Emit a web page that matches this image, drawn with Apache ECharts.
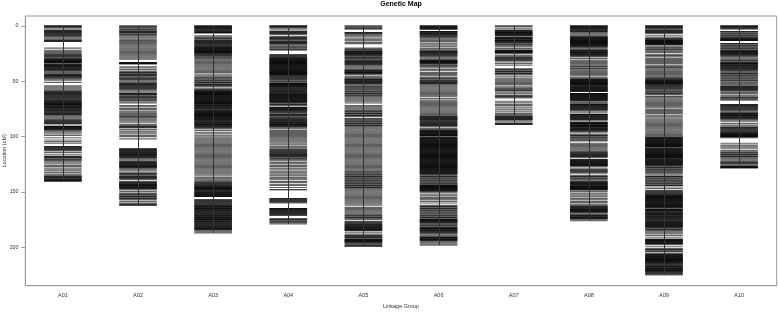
<!DOCTYPE html>
<html><head><meta charset="utf-8">
<script src="https://cdn.jsdelivr.net/npm/echarts@6/dist/echarts.min.js"></script>
<style>html,body{margin:0;padding:0;background:#fff}#c{width:778px;height:313px}</style>
</head><body><div id="c"></div>
<script>
const categories = ['A01','A02','A03','A04','A05','A06','A07','A08','A09','A10'];
const yTicks = [0,50,100,150,200];

const A01 = [0,0,0,1,1,1,2.5,4,4,5,5,6,6,7,7,8,8,9,9,10,11,12,13,13,14,14,20,22,23,24,25,26,26,27,27,28,28,29,30,30,30,31,31,31,32,32,32,33,33,33,34,35,35,35,36,36,36,37,37,37,38,38,39,39,39,40,40,41,42,43,44,44,45,45,45,46,46,47,47,48,49,51,54,55,56,57,58,59,59,60,60,61,61,62,62,63,63,64,64,65,65,66,66,67,67,68,68,68,69,69,70,70,70,71,71,71,72,72,73,73,73,74,74,74,75,75,76,76,76,77,77,78,78,79,79,80,80,81,82,83,84,85,85,86,86,87,87,88,88,89.5,91,91,91,92,92,92,93,93,93,94,94,95,96,97.5,99,101,103,104.5,106,109,109,110,110,111,111,112,112,113,114.5,116.5,118,118,119,119,120,121,121,122,123,124.5,126,127,128.5,130,131,132.5,134,135,136,136,137,137,138,138,139,139,139,140,140,140];

const A02 = [0,0,1,1,2,3,3,4,5,5,6,6,7,8,8,9,10,11,12.5,13,14,15,16,17,18,19,20,21,22,23,24,25,26,27,28,29,30,33,33,33,34,34,34,37,38,39.5,41,42,42,43,44,44,45,45,46,47,47,48,48,49,50,51,52,52,53,53,54,54,55,55,56,56,57,57,58,59,60.5,61,61,62,62,63,64,64,65,65,66,67,67,68.5,69.5,72,73,74.5,75.5,77,78,79,80,81,82,82,83,84,85,86,87.5,89,90,91,91,92,92,93.5,95,96,97.5,99,100,102,111,111,112,112,112,113,113,114,114,114,115,115,116,116,116,117,117,118,118,119,119,120,121,122,123,123,123,124,124,125,125,125,126,126,127,127,127,128,128,129,130,131,133,133,134,134,135,136,136,137,137,138,138,139,141,141,141,142,142,143,143,143,144,144,144,145,145,146,146,146,147,147,148,149.5,151,152,152,153,154,154,155,156,156,157,158.5,160,161,161,162,162];

const A03 = [0,0,0,1,1,1,2,2,2,3,3,4,4,5,5,6,6,6,9,10,11,11,12,13,13,14,14,15,15,16,16,17,17,18,18,19,19,19,20,20,20,21,21,21,22,22,22,23,23,23,24,24,24,25,25,26,26,27,27,28,29,29,30,31,32,33,34,35,36,37,38,39,40,41,42,43.5,45,46,47,47,48,49,49,50,51,51,52,53,53,54,54,55,57,57,58,58,59,59,59,60,60,60,61,61,61,62,62,62,63,63,63,64,64,64,65,65,65,66,66,66,67,67,67,68,68,68,69,69,69,70,70,70,71,71,72,72,72,73,73,74,74,74,75,75,76,76,77,77,77,78,78,78,79,79,79,80,80,80,81,81,81,82,82,82,83,83,83,84,84,84,85,85,85,86,86,87,87,87,88,88,89,89,89,90,90,91,91,92,92,93,94.5,96,97,98.5,99.5,101,102,103,104,105,106,107,108,109,110,111,112,113,114,115,116,117,118,119,120,121,122,123,124,125,126,127,128,129,130,131,132,133,134,135.5,137,138,139,140,141,141,142,142,143,143,144,144,145,145,146,146,146,147,147,147,148,148,148,149,149,150,150,150,151,151,151,152,152,152,153,153,153,154,154,154,157,157,158,158,159,159,160,160,161,161,162,162,163,163,163,164,164,165,165,165,166,166,167,167,167,168,168,169,169,169,170,170,171,171,171,172,172,173,173,173,174,174,175,175,175,176,176,177,177,177,178,178,179,179,179,180,180,181,181,181,182,182,183,183,183,184,184,185,186,187];

const A04 = [0,0,0,1,1,1,2,3.5,5,5,6,6,7,7,8,9.5,10.5,11,11,12,12,13,14,14,15,15,16,16,17,18,19,19,20,21,21,22,26,26,27,27,28,28,29,29,29,30,30,30,31,31,31,32,32,32,33,33,33,34,34,34,35,35,35,36,36,36,37,37,37,38,38,38,39,39,39,40,40,40,41,41,41,42,42,42,43,43,43,44,44,44,45,45,46,46,47,47,48,48,49,50,50,51,52,52,52,53,53,53,54,54,54,55,55,55,56,56,57,57,57,58,58,59,59,59,60,60,61,61,62,62,62,63,63,63,64,64,64,65,65,65,66,66,66,67,67,67,68,68,68,69,69,70,71,71,72,73.5,74,74,74,75,75,75,76,76,76,77,77,78,78,79,80,80,81,81,82,83,83,84,84,85,85,85,86,86,87,87,87,88,88,89,89,89,90,90,91,91,92,93,94.5,95.5,96.5,97,98,99,100,101,102,103,104,105,106.5,107.5,109,110,111,112,112,113,113,114,114,115,115,116,116,117,117,118,118,119,120,120,121,122,123.5,124.5,126,127,128.5,129.5,131,132,133,134.5,135.5,137,138,139,140.5,141.5,143,144,146,148,148,156,156,157,157,158,158,159,159,160,165,165,165,166,166,167,167,167,168,168,169,169,169,170,170,171,171,174,175,175,176,177,177,178,179];

const A05 = [0,0,1,2,2,3,6,6,7,7,8,9,10,11.5,12.5,13.5,15,16,20,21,21,22,23,23,23,24,24,25,25,25,26,26,27,27,28,29,29,29,30,31,31,32,32,33,33,34,34,35,35,36,37,38,39,40,40,40,41,41,42,42,42,43,43,44,45.5,46.5,48,48,48,49,49,50,50,50,51,51,52,52,53,54,55,55,56,57,57,58,59,59,60,61,61,62,63,63,64,65,66,67,68,69.5,72,73,74,75,76,77,77,78,79,79,80,81,81,82,84,84,85,86,86,87,88,88,89,90,90,91,92,93,94,95,96,97,98,99,100,101,102,103,104,105,106,107,108,109,110,111,112,113,114,115,116,117,118,119,120,121,122,123,124,125,126,127,128,129,130,131,132,132,133,134,134,135,136,136,137,138,138,139,140,140,141,142,142,143,144,144,145,146,146,147,148,149,150,151,152,153,154,155,156,157,158,159,160,161,162.5,164,165,166,167,168,169,170,171,171,172,173,173,174,175,177,177,178,178,179,179,180,180,180,181,181,182,182,182,183,183,184,184,184,185,185,187,189,189,190,190,191,191,192,193,193,193,194,194,194,195,195,195,196,196,197,198,198,199,199];

const A06 = [0,0,0,1,1,1,2,2,2,3,3,5,5,5,6,6,7,7,7,8,8,9,9,10,10,11,12,13,14,15.5,16.5,18,19,20.5,21.5,22.5,23,23,24,24,25,25,26,26,27,27,28,29,30,31,31,31,32,32,32,33,33,33,34,34,35,36,36,37,38,39.5,40.5,42,43,44,45,46.5,47.5,48,49,49,50,50,51,51,52,52,53,54,55,56,57,58,59,60,61,62,63,64,65.5,67,68,69,70,71,72,73,74,75,76,77,78,79,80,81,82,82,82,83,83,84,84,84,85,85,86,86,87,87,88,88,89,89,90,90,91,92.5,94,94,94,95,95,95,96,96,96,97,97,97,98,98,98,99,99,99,100,101,101,101,102,102,102,103,103,103,104,104,104,105,105,105,106,106,106,107,107,107,108,108,108,109,109,109,110,110,110,111,111,111,112,112,112,113,113,113,114,114,114,115,115,115,116,116,116,117,117,117,118,118,118,119,119,119,120,120,120,121,121,121,122,122,122,123,123,123,124,124,124,125,125,125,126,126,126,127,127,127,128,128,128,129,129,129,130,130,130,131,131,131,132,132,132,133,133,133,134,134,135,136,136,137,138,138,139,140,140,141,142,142,143,144,144,144,145,145,145,146,146,146,147,147,147,148,148,148,149,149,149,150,151,152.5,153.5,155,156,157,158.5,160,162,163,163,164,165,165,166,167,167,168,169,169,170,171,171,172,173,173,174,175,175,175,176,176,176,177,177,177,178,178,179,180,180,181,182,182,183,183,183,184,184,185,185,185,186,186,187,187,188,189,190,191,191,191,192,192,193,193,193,194,194,195,196,197,198];

const A07 = [0,0,1,2.5,4,4,5,5,6,6,6,7,7,7,8,8,8,9,9,10.5,11,11,11,12,12,13,13,13,14,14,15,15,16,17,17,18,19,20.5,22,22,22,23,23,23,24,24,24,25,26.5,27.5,28.5,29,29,30,30,31,31,32.5,34,35.5,39,39,40,41,41,42,43,43,44,45.5,47,48,49,50,51,52,53,54.5,56,56,57,58,58,59,60.5,61.5,63,63,64,64,65,68,69.5,71,72,73.5,75,76,77.5,79,80,81,82,82,82,83,83,84,84,84,85,85,86.5,88,88,89,89];

const A08 = [0,0,0,1,1,1,2,2,2,3,3,4,4,5,5,6,7,8,9,10,10,10,11,11,11,12,12,12,13,13,13,14,14,14,15,15,15,16,16,16,17,17,17,18,18,18,19,19,20,21,22,22,22,23,23,24,24,24,25,25,26,26,26,27,27,28,29.5,31,32,33,34,35,36,37,37,38.5,39,40,41,42,43,44,45,46.5,48,48,48,49,49,49,50,50,50,51,51,51,52,52,52,53,53,53,54,54,55,55,55,56,56,56,57,57,57,58,58,58,59,59,59,61,61,61,62,62,62,63,63,63,64,64,64,65,65,65,66,66,66,67,67,67,68,69,70,71,71,71,72,72,73,73,73,74,74,75,75,75,76,76,77,78.5,80,80,80,81,81,82,82,82,83,83,84,84,84,85,85,87,87,87,88,88,88,89,89,90,90,90,91,91,91,92,92,93,93,93,94,94,94,95,95,96.5,98,99,99,100,101,101,102,103,103,104,106,107,108,109,110,111,112,113,114,114,115,115,116,116,117,117,118,118,119,121,121,121,122,122,122,123,123,123,124,124,124,125,125,125,126,126,126,127,128.5,130,130,131,131,132,132,133,135,136,136,137,138,138,139,140,141,141,141,142,142,142,143,143,143,144,144,145,145,145,146,146,146,147,147,147,148,148,148,149.5,151,152,153.5,154.5,156,157,158.5,159.5,161,162,163,163,164,164,165,165,166,166,166,167,167,167,168,168,168,169,170,171,171,171,172,172,173,173,173,174,174,175,176];

const A09 = [0,0,0,1,1,1,2,2,3,4,4,5,5,6,6,7,9,11,11,12,12,13,13,13,14,14,14,15,15,15,16,16,16,17,17,17,19,19,20,21,21,22,23,24,25.5,26.5,27,28,29.5,30.5,31,32,33,34,35.5,36.5,37.5,38,39,40,41,42,43,44,45,46,47,47,48,48,49,49,49,50,50,50,51,51,51,52,52,52,53,53,54,54,55,55,56,56,57,57,58,59,59,60,61,61,62,63.5,64,65,66,67,68,69,70,71,72,73,74,75.5,76.5,77.5,78,79,80.5,81.5,82.5,84,85,86,87,88,89,90,91,92,93,94,95,96,97,98,99,100,101,101,101,102,102,102,103,103,103,104,104,104,105,105,105,106,106,106,107,107,107,108,108,108,109,109,109,110,111,111,111,112,112,112,113,113,113,114,114,114,115,115,115,116,116,116,117,117,117,118,118,118,119,119,119,120,120,121,121,121,122,122,122,123,123,123,124,124,124,125,125,125,126,126,127,128,128,129,130,130,131,132,132,133,134,135.5,136,136,137,138,138,139,140,140,141,142,142,143,144,144,145.5,147,149,149,150,150,151,151,152,152,153,153,153,154,154,154,155,155,155,156,156,156,157,157,157,158,158,158,159,159,159,160,160,160,161,161,161,162,162,162,163,163,163,164,164,165,166,166,166,167,167,167,168,168,169,169,169,170,170,170,171,171,172,172,172,173,173,174,174,175,175,176,176,177,177,177,178,178,178,179,179,179,180,180,180,181,181,181,182,182,183,184,184,185,186,187,188,189.5,191.5,193,193,193,194,194,194,195,195,195,196,196,196,197,197,197,199,201,202,202,203,204,204,206,206,206,207,207,207,208,208,208,209,209,209,210,210,210,211,211,211,212,212,212,213,213,213,214,214,214,215,215,216,216,217,217,217,218,218,219,219,219,220,220,221,221,221,222,222,223,223,224,224,225];

const A10 = [0,0,0,1,1,1,2,2,3,5,5,6,7,7,8,9,9,10,11,11,11,12,12,12,13,13,13,16,16,17,18,18,19,20,20,21,22,22,23,23,23,24,24,25,25,25,26,26,27,27,28,29,30,31,31,32,33,33,34,34,34,35,35,36,36,36,37,37,38,38,38,39,39,40,40,41,42,43,43,44,45,45,46,47,47,48,49,49,50,51,52,53,54,55,55,55,56,56,57,57,57,58,58,59,60,61,62.5,63.5,64.5,65,66,66,67,71,71,72,72,73,73,74,74,75,75,76,76,77,78,79,79,79,80,80,81,81,81,82,82,83,83,83,84,84,85,86,88,89.5,90.5,91.5,92,92,93,93,94,94,95,95,96,96,97,97,97,98,98,98,99,99,99,100,100,100,101,106,107.5,108.5,109.5,111,112.5,114,114,115,116,116,117,118,118,119,120,121,122,123,123,124,124,125,126,127,127,127,128,128,128];

const groups = [A01,A02,A03,A04,A05,A06,A07,A08,A09,A10];
const markerData = [];
groups.forEach(function(g,i){ g.forEach(function(p){ markerData.push([i,p]); }); });
const lengthData = groups.map(function(g,i){ return [i, 0, Math.max.apply(null,g)]; });

const FONT = 'Liberation Sans';
const chart = echarts.init(document.getElementById('c'), null, {renderer:'canvas'});
chart.setOption({
  animation:false,
  backgroundColor:'#fff',
  title:{text:'Genetic Map', left:401, top:1, textAlign:'center', padding:0,
    textStyle:{fontFamily:FONT, fontSize:7, fontWeight:'bold', color:'#000'}},
  grid:{left:25.3, right:1.3, top:16, bottom:27.3, containLabel:false, outerBoundsMode:'none',
    show:true, borderColor:'#999', borderWidth:1, backgroundColor:'transparent'},
  xAxis:{type:'category', data:categories, boundaryGap:true,
    name:'Linkage Group', nameLocation:'middle', nameGap:17,
    nameTextStyle:{fontFamily:FONT, fontSize:5.5, color:'#333'},
    axisLine:{onZero:false, lineStyle:{color:'#999', width:1}},
    axisTick:{alignWithLabel:true, length:4, lineStyle:{color:'#999'}},
    axisLabel:{fontFamily:FONT, fontSize:5.5, color:'#333', margin:7},
    splitLine:{show:false}},
  yAxis:{type:'value', inverse:true, min:-9, max:234.7,
    name:'Location (cM)', nameLocation:'middle', nameGap:17.5, nameRotate:90, nameMoveOverlap:false,
    nameTextStyle:{fontFamily:FONT, fontSize:5.5, color:'#333'},
    axisLine:{show:true, onZero:false, lineStyle:{color:'#999', width:1}},
    axisTick:{show:true, length:4, customValues:yTicks, lineStyle:{color:'#999'}},
    axisLabel:{fontFamily:FONT, fontSize:5.2, color:'#333', margin:7, customValues:yTicks},
    splitLine:{show:false}},
  series:[
    {type:'custom', data:markerData, progressive:0, z:2, silent:true,
     encode:{x:0, y:1},
     renderItem:function(params, api){
       var c = api.coord([api.value(0), api.value(1)]);
       var w = api.size([1,0])[0]*0.25;
       var h = Math.abs(api.size([0,1])[1]);
       return {type:'rect', shape:{x:c[0]-w, y:c[1]-h/2, width:2*w, height:h},
         style:{fill:'rgba(0,0,0,0.62)'}};
     }},
    {type:'custom', data:lengthData, z:3, silent:true,
     encode:{x:0, y:[1,2]},
     renderItem:function(params, api){
       var a = api.coord([api.value(0), api.value(1)]);
       var b = api.coord([api.value(0), api.value(2)]);
       var x = Math.round(a[0])+0.5;
       return {type:'line', shape:{x1:x, y1:a[1], x2:x, y2:b[1]},
         style:{stroke:'#333', lineWidth:1}};
     }}
  ]
});
</script>
</body></html>
